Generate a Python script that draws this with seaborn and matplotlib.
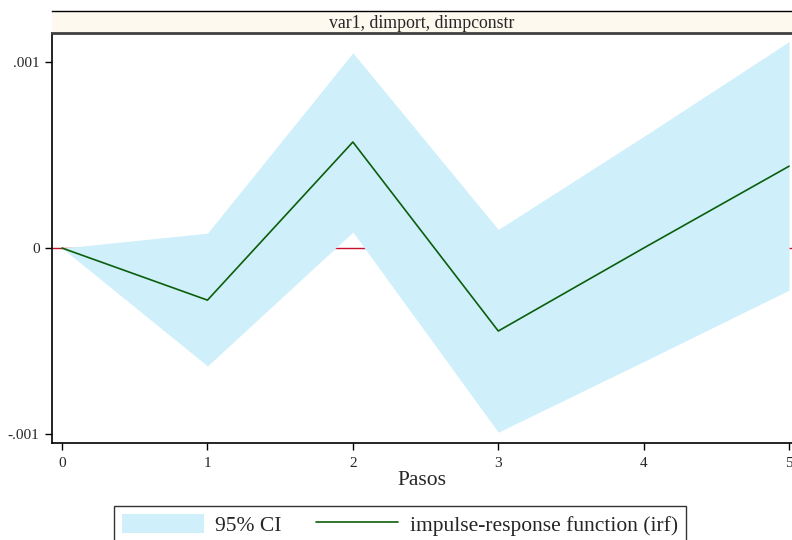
import matplotlib

matplotlib.use("Agg")
import matplotlib.pyplot as plt
import pandas as pd
import seaborn as sns
from matplotlib.patches import Patch, Rectangle
from matplotlib.lines import Line2D

steps = [0, 1, 2, 3, 4, 5]
irf = [0.0, -0.00028, 0.00057, -0.000446, 0.0, 0.00044]
ci_upper = [0.0, 0.00008, 0.00105, 0.0001, 0.0006, 0.00111]
ci_lower = [0.0, -0.000634, 0.000086, -0.00099, -0.00061, -0.000226]
panel_title = "var1, dimport, dimpconstr"
y_ticks = [-0.001, 0.0, 0.001]
y_tick_labels = ["-.001", "0", ".001"]

sns.set_theme(style="white")
plt.rcParams["font.family"] = ["Liberation Serif", "DejaVu Serif"]

df = pd.DataFrame({"step": steps, "irf": irf, "lo": ci_lower, "hi": ci_upper})

fig = plt.figure(figsize=(7.92, 5.4), dpi=100)
ax = fig.add_axes([0.0657, 0.1796, 0.9343, 0.7593])

ax.axhline(0, color="#c8102e", linewidth=1.0, zorder=1)
ax.fill_between(df["step"], df["lo"], df["hi"], color="#cff0fb", linewidth=0, zorder=2)
sns.lineplot(data=df, x="step", y="irf", color="#0b5e0b", linewidth=1.2, ax=ax, zorder=3)

ax.set_xlim(-0.069, 5.02)
ax.set_ylim(-0.001048, 0.001156)
ax.set_xticks(steps)
ax.set_xticklabels([str(s) for s in steps])
ax.set_yticks(y_ticks)
ax.set_yticklabels(y_tick_labels)
ax.tick_params(axis="both", direction="out", length=5, width=1, color="black",
               labelsize=11, pad=4, left=True, bottom=True)
ax.tick_params(axis="x", pad=5)
ax.set_xlabel("Pasos", fontsize=15.5, labelpad=1)
ax.set_ylabel("")
ax.spines["right"].set_visible(False)
ax.spines["top"].set_visible(False)
for side in ["left", "bottom"]:
    ax.spines[side].set_color("black")
    ax.spines[side].set_linewidth(1.2)

# panel title strip
strip = fig.add_axes([0.0657, 0.9389, 0.9343, 0.0407])
strip.add_patch(Rectangle((0, 0), 1, 1, transform=strip.transAxes,
                          facecolor="#fef9ee", edgecolor="none"))
strip.set_xlim(0, 1)
strip.set_ylim(0, 1)
strip.set_xticks([])
strip.set_yticks([])
for side in ["left", "right"]:
    strip.spines[side].set_visible(False)
strip.spines["top"].set_color("black")
strip.spines["top"].set_linewidth(1.0)
strip.spines["bottom"].set_color("#404040")
strip.spines["bottom"].set_linewidth(2.0)
strip.text(0.5, 0.45, panel_title, ha="center", va="center", fontsize=12.8)

handles = [
    Patch(facecolor="#cff0fb", edgecolor="none", label="95% CI"),
    Line2D([0], [0], color="#0b5e0b", linewidth=1.2, label="impulse-response function (irf)"),
]
leg = fig.legend(handles=handles, loc="upper center", bbox_to_anchor=(0.505, 0.063),
                 ncol=2, fontsize=15.5, frameon=True, fancybox=False,
                 handlelength=3.8, handleheight=1.0, columnspacing=1.6,
                 borderpad=0.35, handletextpad=0.55, borderaxespad=0.0)
leg.get_frame().set_edgecolor("black")
leg.get_frame().set_linewidth(1.0)

fig.savefig("out.png", dpi=100)
plt.close(fig)
